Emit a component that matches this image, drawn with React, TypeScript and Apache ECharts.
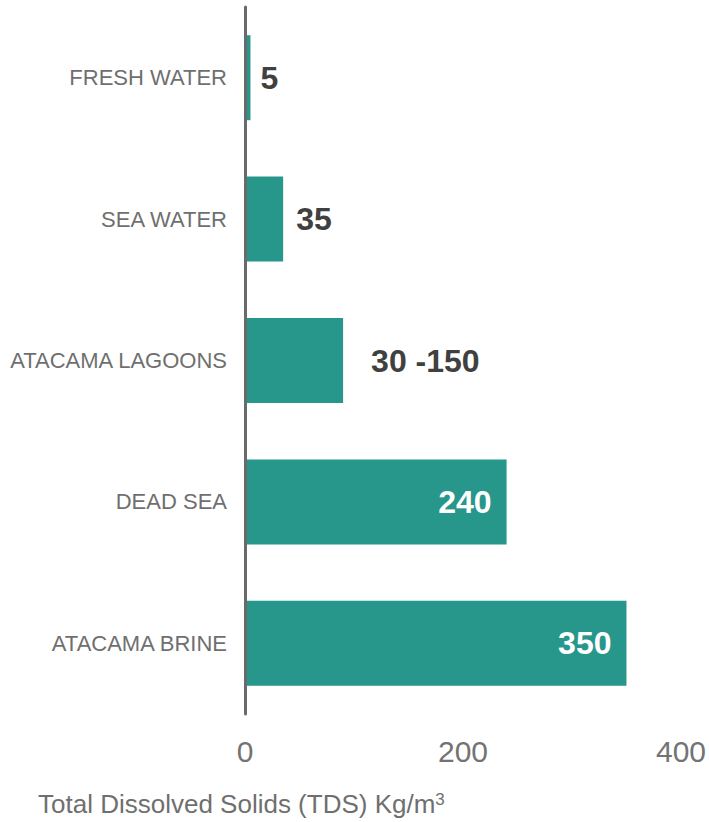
import React, { useEffect, useRef } from "react";
import * as echarts from "echarts";

const categories = ["FRESH WATER", "SEA WATER", "ATACAMA LAGOONS", "DEAD SEA", "ATACAMA BRINE"];
const values = [5, 35, 90, 240, 350];
const valueLabels = ["5", "35", "30 -150", "240", "350"];
const xTicks = { min: 0, max: 400, interval: 200 };
const axisTitle = "Total Dissolved Solids (TDS) Kg/m";
const axisTitleSup = "3";

const FONT = "'Liberation Sans', Arial, sans-serif";

export default function App() {
  const ref = useRef<HTMLDivElement>(null);
  useEffect(() => {
    document.body.style.margin = "0";
    if (!ref.current) return;
    const chart = echarts.init(ref.current, undefined, { renderer: "svg" });
    const outsideGaps = [10, 13, 28];
    const data = values.map((v, i) => {
      const inside = v > 200;
      return {
        value: v,
        label: inside
          ? { position: "insideRight", distance: 15, color: "#ffffff" }
          : { position: "right", distance: outsideGaps[i] ?? 10, color: "#404040" },
      };
    });
    chart.setOption({
      animation: false,
      textStyle: { fontFamily: FONT },
      grid: { left: 245, right: 28, top: 7, bottom: 108, containLabel: false },
      xAxis: {
        type: "value",
        min: xTicks.min,
        max: xTicks.max,
        interval: xTicks.interval,
        axisLine: { show: false },
        axisTick: { show: false },
        splitLine: { show: false },
        axisLabel: { fontSize: 30, color: "#737373", margin: 22, fontFamily: FONT },
      },
      yAxis: {
        type: "category",
        data: categories,
        inverse: true,
        z: 3,
        axisLine: { show: true, lineStyle: { color: "#6a6a6a", width: 3 } },
        axisTick: { show: false },
        axisLabel: { fontSize: 22, color: "#6f6f6f", margin: 18, fontFamily: FONT },
      },
      series: [
        {
          type: "bar",
          data,
          barWidth: 85,
          itemStyle: { color: "#26978a" },
          label: {
            show: true,
            fontSize: 32,
            fontWeight: "bold",
            fontFamily: FONT,
            formatter: (p: any) => valueLabels[p.dataIndex],
          },
        },
      ],
      graphic: [
        {
          type: "text",
          left: 38,
          top: 791,
          style: {
            text: `${axisTitle}{sup|${axisTitleSup}}`,
            fontSize: 26,
            fontFamily: FONT,
            fill: "#6f6f6f",
            rich: {
              sup: { fontSize: 17, fill: "#6f6f6f", verticalAlign: "top", fontFamily: FONT },
            },
          },
        },
      ],
    });
    return () => chart.dispose();
  }, []);
  return <div ref={ref} style={{ width: 709, height: 822 }} />;
}
